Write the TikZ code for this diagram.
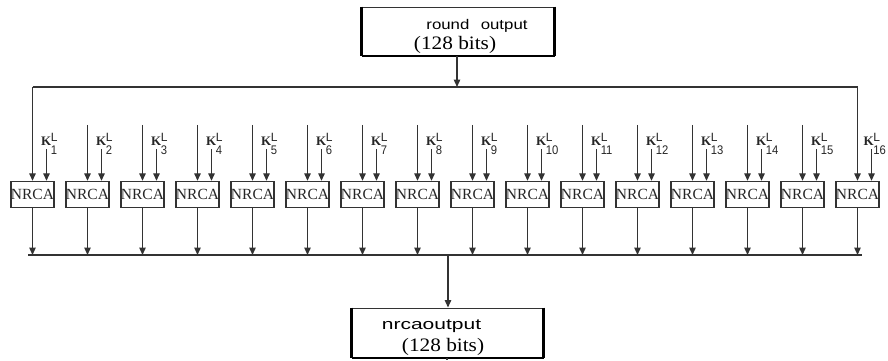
\documentclass[tikz,border=0pt]{standalone}
\usepackage{fontspec}
\usepackage{graphicx}
\setmainfont{Liberation Serif}
\setsansfont{Liberation Sans}
\usetikzlibrary{arrows.meta}
\definecolor{linecol}{gray}{0.2}
\definecolor{txtcol}{gray}{0.15}
\newcommand{\klab}[1]{\fontsize{13}{13}\selectfont\textbf{K}\hspace{-0.5pt}\rlap{\raisebox{3.5pt}{\sffamily\fontsize{12}{12}\selectfont L}}\raisebox{-9.5pt}{\scalebox{0.9}[1]{\sffamily\fontsize{12.5}{12.5}\selectfont #1}}}
\tikzset{
  ln/.style={draw=linecol, line width=1.3pt},
  arr/.style={ln, -{Triangle[length=7.5pt,width=6.5pt]}},
  nrca/.style={draw=linecol, line width=1.4pt, minimum width=41pt, minimum height=26pt, inner sep=0pt, text=txtcol, font=\fontsize{15.5}{15.5}\selectfont},
  bigbox/.style={draw=linecol, line width=1pt, inner sep=0pt},
  thickside/.style={draw=black, line width=2.6pt},
  lbl/.style={inner sep=0pt, anchor=base, text=black},
  klbl/.style={inner sep=0pt, anchor=base west, text=txtcol},
}
\begin{document}
\begin{tikzpicture}[x=1pt,y=-1pt]
\useasboundingbox (0,0) rectangle (888,360);
% top box
\node[bigbox, minimum width=192pt, minimum height=48pt] (top) at (458,31) {};
\draw[thickside] (top.north west) -- (top.south west);
\draw[thickside] (top.north east) -- (top.south east);
\draw[draw=black, line width=2pt] (top.south west) -- (top.south east);
\node[lbl] (toptxt1) at (477,29) {\scalebox{1.2}[1]{\sffamily\fontsize{14}{14}\selectfont round\hspace{9.5pt}output}};
\node[lbl] (toptxt2) at (455,49) {\scalebox{1.12}[1]{\fontsize{19}{19}\selectfont (128 bits)}};
% bottom box
\node[bigbox, minimum width=191pt, minimum height=49pt] (bot) at (447.5,332.5) {};
\draw[thickside] (bot.north west) -- (bot.south west);
\draw[thickside] (bot.north east) -- (bot.south east);
\draw[draw=black, line width=2pt] (bot.south west) -- (bot.south east);
\node[lbl] (bottxt1) at (431.5,329) {\scalebox{1.4}[1]{\sffamily\fontsize{15}{15}\selectfont nrcaoutput}};
\node[lbl] (bottxt2) at (443,351) {\scalebox{1.12}[1]{\fontsize{19}{19}\selectfont (128 bits)}};
% NRCA boxes
\foreach \i in {1,...,16}{
  \pgfmathsetmacro{\cx}{32.5+55*(\i-1)}
  \pgfmathsetmacro{\kx}{\i==16 ? \cx+6 : \cx+8.5}
  \node[nrca] (n\i) at (\cx,194.5) {NRCA};
  \coordinate (k\i) at (\cx+14,149);
  \node[klbl] (kl\i) at (\kx,145) {\klab{\i}};
  \draw[arr] (k\i) -- (k\i |- n\i.north);
}
% top distribution
\coordinate (tl) at (32.5,87);
\coordinate (tr) at (857.5,87);
\draw[ln] (tl) -- (tr);
\draw[arr] (top.south -| 457,0) -- (tl -| 457,0);
\draw[arr] (tl) -- (n1.north);
\draw[arr] (tr) -- (n16.north);
\foreach \i in {2,...,15}{
  \coordinate (m\i) at ([yshift=56pt]n\i.north);
  \draw[arr] (m\i) -- (n\i.north);
}
% bottom collection
\coordinate (bl) at (28,255);
\coordinate (br) at (862,255);
\draw[ln] (bl) -- (br);
\foreach \i in {1,...,16}{
  \draw[arr] (n\i.south) -- (n\i.south |- bl);
}
\coordinate (bm) at (448,255);
\draw[arr] (bm) -- (bm |- bot.north);
\coordinate (be) at (447,360);
\draw[ln] (bot.south -| be) -- (be);
\end{tikzpicture}
\end{document}
